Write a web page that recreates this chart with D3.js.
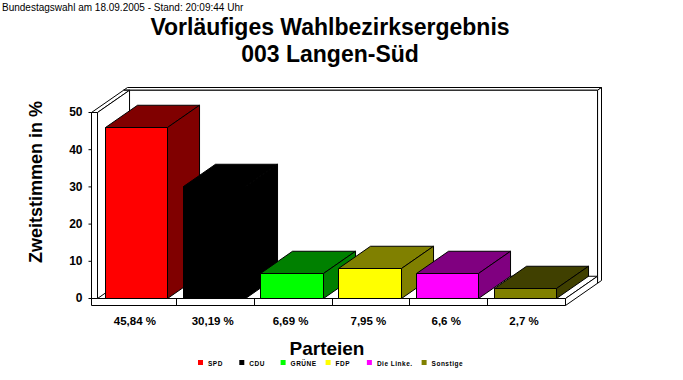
<!DOCTYPE html>
<html><head><meta charset="utf-8">
<script src="https://cdn.jsdelivr.net/npm/d3@7"></script>
<style>
html,body{margin:0;padding:0;background:#fff;}
svg{display:block;font-family:Arial,"Liberation Sans",sans-serif;}
</style></head>
<body>
<script>
const parties = ["SPD","CDU","GRÜNE","FDP","Die Linke.","Sonstige"];
const values = [45.84,30.19,6.69,7.95,6.6,2.7];
const frontColors = ["#ff0000","#000000","#00ff00","#ffff00","#ff00ff","#808000"];
const darkColors  = ["#800000","#000000","#008000","#808000","#800080","#404000"];
const legendColors = ["#ff0000","#000000","#00ff00","#ffff00","#ff00ff","#808000"];
const yTicks = [0,10,20,30,40,50];
const valueLabels = values.map(v => String(v).replace(".", ",") + " %");

const W = 683, H = 380;
const svg = d3.select("body").append("svg").attr("width", W).attr("height", H);

const x = d3.scaleBand().domain(parties).range([98,565]).paddingInner(0.2).paddingOuter(0.1);
const y = d3.scaleLinear().domain([0,50]).range([298,112]);
const DX = 36, DY = 25, ZB = 0.89;
const P = (px,py,z) => [px + z*DX, py - z*DY];
const poly = pts => "M" + pts.map(p => p.join(",")).join("L") + "Z";

function box(g, x0, x1, yT, yB, z0, z1, cFront, cDark) {
  const top = [P(x0,yT,z0),P(x1,yT,z0),P(x1,yT,z1),P(x0,yT,z1)];
  const right = [P(x1,yT,z0),P(x1,yT,z1),P(x1,yB,z1),P(x1,yB,z0)];
  const front = [P(x0,yT,z0),P(x1,yT,z0),P(x1,yB,z0),P(x0,yB,z0)];
  [[top,cDark],[right,cDark],[front,cFront]].forEach(([pts,c]) => {
    g.append("path").attr("d", poly(pts)).attr("fill", c)
      .attr("stroke","#000").attr("stroke-width",1).attr("stroke-linejoin","miter");
  });
}

const scene = svg.append("g").attr("transform","translate(0.5,0.5)");
const yTopWall = y(50), yFloor = y(0), yFloorB = y(0) + 7;
const xL = 91, xLi = 97, xR = x.range()[1];
// back wall
box(scene, xL, xR, yTopWall, yFloorB, ZB, 1, "#fff", "#fff");
// floor
box(scene, xL, xR, yFloor, yFloorB, 0, ZB, "#fff", "#fff");
// left wall
box(scene, xL, xLi, yTopWall, yFloor, 0, ZB, "#fff", "#fff");

// category separators on floor front
const step = x.step();
parties.slice(1).forEach(p => {
  const bx = Math.round(x(p) - step * x.paddingInner() / 2);
  scene.append("line").attr("x1", bx).attr("x2", bx).attr("y1", yFloor).attr("y2", yFloorB)
    .attr("stroke","#000");
});

// bars
parties.forEach((p,i) => {
  const x0 = Math.round(x(p)) - 1, x1 = Math.round(x(p) + x.bandwidth()) - 1;
  box(scene, x0, x1, Math.round(y(values[i])), yFloor, 0, ZB, frontColors[i], darkColors[i]);
});

// y axis
const ax = svg.append("g").attr("transform", `translate(${xL+0.5},0)`)
  .call(d3.axisLeft(y).tickValues(yTicks).tickSize(3).tickPadding(6));
ax.select(".domain").remove();
ax.selectAll("text").attr("font-size", 12).attr("font-weight","bold")
  .attr("font-family","Arial,'Liberation Sans',sans-serif").attr("fill","#000");
ax.selectAll("line").attr("stroke","#000");

// value labels
svg.append("g").selectAll("text").data(parties).join("text")
  .attr("x", p => x(p) + x.bandwidth()/2 - 2)
  .attr("y", 325)
  .attr("text-anchor","middle").attr("font-size", 11.5).attr("font-weight","bold")
  .text((p,i) => valueLabels[i]);

// titles
svg.append("text").attr("x", 2).attr("y", 11).attr("font-size", 10)
  .text("Bundestagswahl am 18.09.2005 - Stand: 20:09:44 Uhr");
svg.append("text").attr("x", 330).attr("y", 35).attr("text-anchor","middle")
  .attr("font-size", 23).attr("font-weight","bold").text("Vorläufiges Wahlbezirksergebnis");
svg.append("text").attr("x", 330).attr("y", 62).attr("text-anchor","middle")
  .attr("font-size", 23).attr("font-weight","bold").text("003 Langen-Süd");
svg.append("text").attr("transform","translate(42,182) rotate(-90)").attr("text-anchor","middle")
  .attr("font-size", 18).attr("font-weight","bold").text("Zweitstimmen in %");
svg.append("text").attr("x", 327).attr("y", 355).attr("text-anchor","middle")
  .attr("font-size", 19).attr("font-weight","bold").text("Parteien");

// legend
const lg = svg.append("g");
let lx = 198;
parties.forEach((p,i) => {
  lg.append("rect").attr("x", lx).attr("y", 360).attr("width", 5).attr("height", 5)
    .attr("fill", legendColors[i]);
  const t = lg.append("text").attr("x", lx + 10).attr("y", 366).attr("font-size", 6.5)
    .attr("font-weight","bold").attr("letter-spacing", 0.5).text(p);
  const w = t.node().getComputedTextLength();
  lx += Math.max(41.3, 10 + w + 9);
});
</script>
</body></html>
